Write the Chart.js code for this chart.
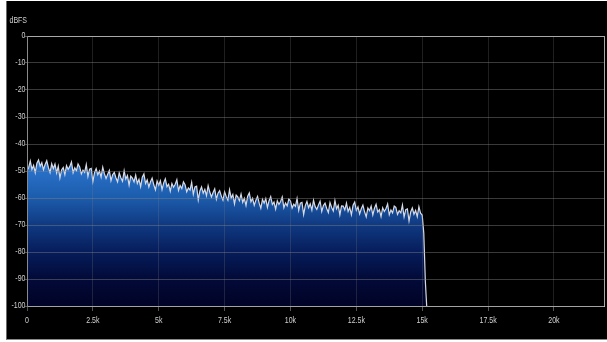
<!DOCTYPE html>
<html>
<head>
<meta charset="utf-8">
<script src="https://cdn.jsdelivr.net/npm/chart.js@4/dist/chart.umd.min.js"></script>
<style>
  html, body { margin: 0; padding: 0; background: #ffffff; width: 607px; height: 342px; overflow: hidden; }
  #panel { position: absolute; left: 6px; top: 1px; width: 600px; height: 338px; background: #000; border-left: 1px solid #6a6a6a; border-bottom: 1px solid #8a8a8a; }
  canvas { display: block; }
</style>
</head>
<body>
<div id="panel"><canvas id="spec" width="600" height="338"></canvas></div>
<script>
// Spectrum analyser snapshot: level per 62.5 Hz bin, 0 Hz .. 15 kHz
const binHz = 62.5;
const levelsDb = [
  -49.8, -48.8, -46.3, -49.4, -47.9, -50.6, -47.1, -45.9, -48.2, -46.9, -49.5, -47.6, -46.2, -48.7, -50.6, -47.3,
  -49.1, -47.4, -50.7, -48.2, -52.6, -49.6, -48.7, -51.3, -48.0, -49.4, -48.3, -46.6, -50.6, -48.8, -49.9, -47.4,
  -48.5, -51.1, -49.7, -50.5, -47.6, -52.0, -49.3, -49.0, -53.9, -50.6, -49.1, -51.4, -50.0, -52.3, -48.6, -51.0,
  -52.8, -51.2, -49.8, -53.6, -51.4, -50.5, -52.5, -54.0, -50.7, -52.5, -53.8, -49.9, -53.0, -51.7, -55.2, -51.9,
  -52.6, -54.0, -51.5, -54.6, -53.1, -55.8, -52.3, -51.1, -54.6, -53.3, -55.9, -54.0, -52.6, -55.1, -57.0, -53.7,
  -55.3, -53.6, -56.9, -54.4, -52.9, -55.8, -54.9, -57.5, -54.6, -56.0, -54.9, -53.2, -57.2, -55.4, -56.5, -54.0,
  -55.1, -57.7, -56.3, -57.1, -54.2, -58.6, -55.9, -55.6, -60.7, -57.4, -55.9, -58.2, -56.8, -59.1, -55.4, -57.8,
  -59.6, -58.0, -56.6, -60.4, -58.2, -57.3, -59.3, -60.8, -57.7, -59.5, -60.8, -56.9, -60.0, -58.7, -62.2, -58.9,
  -59.6, -61.0, -58.5, -61.6, -60.1, -62.8, -59.3, -58.1, -61.4, -60.1, -62.7, -60.8, -59.4, -61.9, -63.8, -60.5,
  -61.9, -60.2, -63.5, -61.0, -59.5, -62.4, -61.5, -64.1, -61.0, -62.4, -61.3, -59.6, -63.6, -61.8, -62.9, -60.4,
  -61.1, -63.7, -62.3, -63.1, -60.2, -64.6, -61.9, -61.6, -66.1, -62.8, -61.3, -63.6, -62.2, -64.5, -60.8, -63.2,
  -64.2, -62.6, -61.2, -65.0, -62.8, -61.9, -63.9, -65.4, -61.7, -63.5, -64.8, -60.9, -64.0, -62.7, -66.2, -62.9,
  -63.0, -64.4, -61.9, -65.0, -63.5, -66.2, -62.7, -61.5, -64.6, -63.3, -65.9, -64.0, -62.6, -65.1, -67.0, -63.7,
  -64.7, -63.0, -66.3, -63.8, -62.3, -65.2, -64.3, -66.9, -63.6, -65.0, -63.9, -62.2, -66.2, -64.4, -65.5, -63.0,
  -63.5, -66.1, -64.7, -65.5, -62.6, -67.0, -64.3, -64.0, -68.5, -65.2, -63.7, -66.0, -64.6, -66.9, -63.2, -65.6,
  -66.3
];
// Low-pass cutoff roll-off just above 15 kHz
const tailFreqs = [15060, 15120, 15170];
const tailDb = [-73, -91, -100];

const freqTicks = [0, 2500, 5000, 7500, 10000, 12500, 15000, 17500, 20000];
const freqLabels = ['0', '2.5k', '5k', '7.5k', '10k', '12.5k', '15k', '17.5k', '20k'];
const dbTicks = [0, -10, -20, -30, -40, -50, -60, -70, -80, -90, -100];
const dbLabels = ['0', '-10', '-20', '-30', '-40', '-50', '-60', '-70', '-80', '-90', '-100'];
const unitLabel = 'dBFS';

const points = levelsDb.map((v, i) => ({ x: i * binHz, y: v }))
  .concat(tailFreqs.map((f, i) => ({ x: f, y: tailDb[i] })));

const TEXT = '#cfcfcf';
const FONT_CSS = "9px 'Liberation Sans', Arial, sans-serif";
const SQUEEZE = 0.78;

// Narrow meter-style labels, plus the right-hand frame edge
const frame = {
  id: 'frame',
  afterDraw(chart) {
    const { ctx, chartArea, scales } = chart;
    ctx.save();
    ctx.strokeStyle = '#a8a8a8';
    ctx.lineWidth = 1;
    ctx.beginPath();
    ctx.moveTo(chartArea.right + 0.5, chartArea.top);
    ctx.lineTo(chartArea.right + 0.5, chartArea.bottom);
    ctx.stroke();

    ctx.fillStyle = TEXT;
    ctx.font = FONT_CSS;
    ctx.textBaseline = 'middle';

    const put = (txt, x, y, align) => {
      ctx.save();
      ctx.translate(x, y);
      ctx.scale(SQUEEZE, 1);
      ctx.textAlign = align;
      ctx.fillText(txt, 0, 0);
      ctx.restore();
    };
    freqTicks.forEach((v, i) => put(freqLabels[i], scales.x.getPixelForValue(v), 319.5, 'center'));
    dbTicks.forEach((v, i) => put(dbLabels[i], 18.5, scales.y.getPixelForValue(v), 'right'));
    put(unitLabel, 2.5, 19.5, 'left');
    ctx.restore();
  }
};

new Chart(document.getElementById('spec'), {
  type: 'line',
  data: {
    datasets: [{
      data: points,
      parsing: false,
      fill: 'start',
      borderColor: 'rgba(226,228,238,0.95)',
      borderWidth: 1.2,
      pointRadius: 0,
      tension: 0,
      backgroundColor(c) {
        const { chart } = c;
        if (!chart.chartArea) return 'rgba(30,90,170,1)';
        const y = chart.scales.y;
        const g = chart.ctx.createLinearGradient(0, y.getPixelForValue(-45), 0, y.getPixelForValue(-100));
        g.addColorStop(0.00, 'rgb(46,122,214)');
        g.addColorStop(0.27, 'rgb(28,92,172)');
        g.addColorStop(0.45, 'rgb(16,58,130)');
        g.addColorStop(0.64, 'rgb(6,28,90)');
        g.addColorStop(0.82, 'rgb(2,10,56)');
        g.addColorStop(1.00, 'rgb(1,3,38)');
        return g;
      }
    }]
  },
  options: {
    responsive: false,
    animation: false,
    devicePixelRatio: 1,
    layout: { padding: { top: 35, right: 3, left: 0, bottom: 0 } },
    plugins: { legend: { display: false }, tooltip: { enabled: false } },
    scales: {
      x: {
        type: 'linear',
        min: 0,
        max: 21900,
        afterFit(s) { s.height = 33; },
        afterBuildTicks(s) { s.ticks = freqTicks.map(v => ({ value: v })); },
        ticks: { display: false },
        grid: { color: 'rgba(128,128,128,0.24)', tickColor: 'rgba(140,140,140,0.6)', tickLength: 5, z: 1 },
        border: { color: '#c0c0c0', width: 1, z: 1 }
      },
      y: {
        min: -100,
        max: 0,
        afterFit(s) { s.width = 20; },
        afterBuildTicks(s) { s.ticks = dbTicks.map(v => ({ value: v })); },
        ticks: { display: false },
        grid: {
          color(c) { return c.tick && c.tick.value === 0 ? '#a8a8a8' : 'rgba(128,128,128,0.45)'; },
          tickColor: 'rgba(140,140,140,0.6)',
          tickLength: 2,
          z: 1
        },
        border: { color: '#8a8a8a', width: 1, z: 1 }
      }
    }
  },
  plugins: [frame]
});
</script>
</body>
</html>
